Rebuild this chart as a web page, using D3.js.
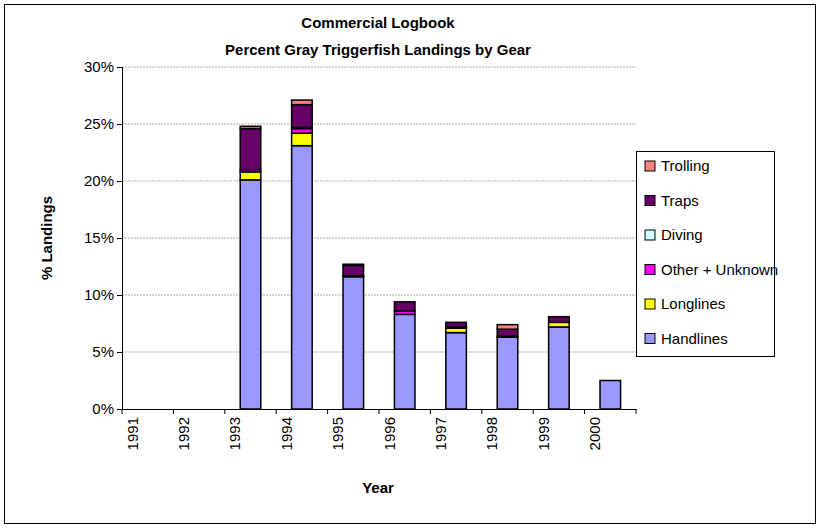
<!DOCTYPE html>
<html><head><meta charset="UTF-8">
<script src="https://d3js.org/d3.v7.min.js"></script>
<style>body{margin:0;background:#fff}text{font-family:Arial,"Liberation Sans",sans-serif}</style>
</head><body>
<script>
const years = ["1991","1992","1993","1994","1995","1996","1997","1998","1999","2000"];
const handlines = [0,0,20.1,23.1,11.6,8.3,6.7,6.3,7.2,2.5];
const longlines = [0,0,0.7,1.1,0.1,0,0.4,0.1,0.4,0];
const otherUnknown = [0,0,0.2,0.4,0,0.3,0.1,0,0,0];
const diving = [0,0,0,0.1,0,0,0,0,0,0];
const traps = [0,0,3.6,2.0,0.9,0.8,0.4,0.6,0.5,0];
const trolling = [0,0,0.2,0.4,0.1,0,0,0.4,0,0];
const series = [
  {name:"Handlines", v:handlines, c:"#9999ff"},
  {name:"Longlines", v:longlines, c:"#ffff00"},
  {name:"Other + Unknown", v:otherUnknown, c:"#ff00ff"},
  {name:"Diving", v:diving, c:"#ccffff"},
  {name:"Traps", v:traps, c:"#660066"},
  {name:"Trolling", v:trolling, c:"#ff8080"}
];
const yTicks = [0,5,10,15,20,25,30];

const svg = d3.select("body").append("svg").attr("width",821).attr("height",529);
svg.append("rect").attr("x",4.5).attr("y",4.5).attr("width",811).attr("height",519).attr("fill","#fff").attr("stroke","#000");

const m = {l:122,r:636,t:67,b:409};
const x = d3.scaleBand().domain(years).range([m.l,m.r]).paddingInner(0.6).paddingOuter(0.3);
const y = d3.scaleLinear().domain([0,30]).range([m.b,m.t]);

svg.append("g").selectAll("line").data(yTicks.slice(1)).join("line")
  .attr("x1",m.l).attr("x2",m.r).attr("y1",d=>y(d)).attr("y2",d=>y(d))
  .attr("stroke","#aaa").attr("stroke-dasharray","2,1");

const rows = years.map((yr,i)=>{const o={year:yr}; series.forEach(s=>o[s.name]=s.v[i]); return o;});
const stack = d3.stack().keys(series.map(s=>s.name))(rows);
const step = x.step();
stack.forEach((layer,k)=>{
  svg.append("g").selectAll("rect").data(layer.filter(d=>d[1]-d[0]>0)).join("rect")
    .attr("x",d=>x(d.data.year)).attr("width",x.bandwidth())
    .attr("y",d=>y(d[1])).attr("height",d=>y(d[0])-y(d[1]))
    .attr("fill",series[k].c).attr("stroke","#000").attr("stroke-width",1.5);
});

const ya = svg.append("g").attr("transform",`translate(${m.l},0)`)
  .call(d3.axisLeft(y).tickValues(yTicks).tickFormat(d=>d+"%").tickSize(5));
ya.select(".domain").attr("stroke","#000");
ya.selectAll("text").attr("font-size",15).attr("fill","#000");
const xa = svg.append("g").attr("transform",`translate(0,${m.b})`)
  .call(d3.axisBottom(x).tickSize(0).tickSizeOuter(0));
xa.selectAll(".tick line").remove();
svg.append("g").selectAll("line").data(d3.range(years.length+1)).join("line")
  .attr("x1",i=>m.l+i*step).attr("x2",i=>m.l+i*step).attr("y1",m.b).attr("y2",m.b+5).attr("stroke","#000");
xa.selectAll("text").attr("font-size",15).attr("fill","#000")
  .attr("transform","rotate(-90)").attr("text-anchor","end").attr("x",-8).attr("y",-step/2+x.bandwidth()/2).attr("dy","0.35em");

svg.append("text").attr("x",378).attr("y",28).attr("text-anchor","middle").attr("font-size",15).attr("font-weight","bold").text("Commercial Logbook");
svg.append("text").attr("x",378).attr("y",55).attr("text-anchor","middle").attr("font-size",15).attr("font-weight","bold").text("Percent Gray Triggerfish Landings by Gear");
svg.append("text").attr("x",378).attr("y",493).attr("text-anchor","middle").attr("font-size",15).attr("font-weight","bold").text("Year");
svg.append("text").attr("transform","translate(52,238) rotate(-90)").attr("text-anchor","middle").attr("font-size",15).attr("font-weight","bold").text("% Landings");

const lg = svg.append("g");
lg.append("rect").attr("x",636.5).attr("y",151.5).attr("width",138).attr("height",205).attr("fill","#fff").attr("stroke","#000");
series.slice().reverse().forEach((s,i)=>{
  const yy = 166+i*34.5;
  lg.append("rect").attr("x",645).attr("y",yy-5).attr("width",10).attr("height",10).attr("fill",s.c).attr("stroke","#000");
  lg.append("text").attr("x",661).attr("y",yy).attr("dy","0.35em").attr("font-size",15).text(s.name);
});
</script>
</body></html>
